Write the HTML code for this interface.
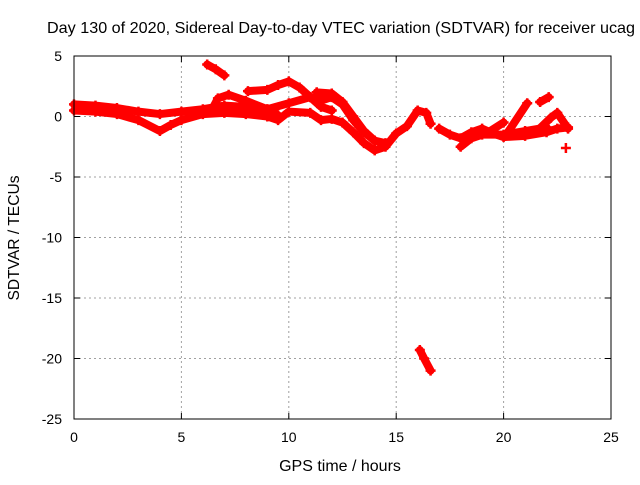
<!DOCTYPE html>
<html><head><meta charset="utf-8"><style>
body{margin:0;background:#fff;}
svg text{font-family:"Liberation Sans",sans-serif;font-size:14px;fill:#000;}
svg text.big{font-size:16px;}
</style></head><body>
<svg id="chart" width="640" height="480" xmlns="http://www.w3.org/2000/svg">
<text class="big" x="47" y="33" textLength="588" lengthAdjust="spacingAndGlyphs">Day 130 of 2020, Sidereal Day-to-day VTEC variation (SDTVAR) for receiver ucag</text>
<text class="big" x="340" y="471" text-anchor="middle">GPS time / hours</text>
<text class="big" transform="translate(19,238) rotate(-90)" text-anchor="middle" textLength="125" lengthAdjust="spacingAndGlyphs">SDTVAR / TECUs</text>
<g id="grid"></g>
<g id="ticks"></g>
<g id="series"></g>
<rect x="74" y="56" width="537" height="363" fill="none" stroke="#000" stroke-width="1"/>
</svg>
<script>
const xTicks=[0,5,10,15,20,25];
const yTicks=[5,0,-5,-10,-15,-20,-25];
const s1=[[0,1.0],[1,0.9],[2,0.7],[3,0.4],[4,0.2],[5,0.4],[6,0.6],[7,0.9],[8,0.8],[9,0.6],[10,1.1],[11,1.6],[11.5,1.3],[12,1.6],[12.5,1.0],[13,-0.3],[13.5,-1.3],[14,-2.0],[14.5,-2.2]];
const s2=[[0,0.5],[1,0.4],[2,0.2],[3,-0.3],[4,-1.2],[4.5,-0.7],[5,-0.3],[6,0.2],[7,0.3],[8,0.2],[9,0.0],[9.5,-0.3],[10,0.4],[11,0.3],[11.5,-0.3],[12,-0.2],[12.5,-0.5],[13,-1.3],[13.5,-2.2],[14,-2.8],[14.5,-2.5],[15,-1.4],[15.5,-0.8],[16,0.5],[16.4,0.3],[16.6,-0.6]];
const s3=[[6.4,0.5],[6.7,1.5],[7.2,1.8],[8,1.3],[9,0.6],[9.5,0.1]];
const s4=[[8.1,2.1],[9,2.2],[9.5,2.6],[10,2.9],[10.5,2.4],[11,1.6],[11.5,0.8],[12,0.5]];
const s5=[[11.3,2.0],[12,1.9],[12.5,1.2],[13,0],[13.5,-1.2],[14,-2.0]];
const s6=[[6.2,4.3],[6.6,3.9],[7,3.4]];
const s7=[[16.1,-19.3],[16.3,-20],[16.6,-21]];
const s8=[[17,-1.0],[17.5,-1.5],[18,-1.8],[18.5,-1.3],[19,-1.0],[19.5,-1.4],[20,-1.7],[21,-1.6],[22,-1.3],[22.5,-1.0],[23,-0.9]];
const s9=[[18,-2.5],[18.5,-1.8],[19,-1.5],[20,-1.5],[21,-1.2],[22,-0.9]];
const s10=[[19.2,-1.4],[20,-0.5]];
const s11=[[20.2,-1.3],[21.1,1.1]];
const s12=[[21.5,-1.3],[22.2,-0.1],[22.5,0.3],[23,-1.0]];
const s13=[[21.7,1.2],[22.1,1.6]];
const s14=[[22.9,-2.6]];
const allSeries=[s1,s2,s3,s4,s5,s6,s7,s8,s9,s10,s11,s12,s13,s14];
const NS='http://www.w3.org/2000/svg';
function xs(v){return 74+v*(537/25);}
function ys(v){return 56+(5-v)*(363/30);}
const grid=document.getElementById('grid'),ticks=document.getElementById('ticks'),ser=document.getElementById('series');
function mk(t,a,p){const e=document.createElementNS(NS,t);for(const k in a)e.setAttribute(k,a[k]);p.appendChild(e);return e;}
xTicks.forEach(v=>{
 const x=xs(v);
 if(v>0&&v<25){const g=mk('line',{x1:x,x2:x,y1:56,y2:419,stroke:'#a0a0a0','stroke-dasharray':'2,3'},grid);
 
 }
 mk('line',{x1:x,x2:x,y1:419,y2:413,stroke:'#000'},ticks);
 mk('line',{x1:x,x2:x,y1:56,y2:62,stroke:'#000'},ticks);
 const t=mk('text',{x:x,y:442,'text-anchor':'middle'},ticks);t.textContent=v;
 
 
});
yTicks.forEach(v=>{
 const y=ys(v);
 if(v<5&&v>-25){const g=mk('line',{x1:74,x2:611,y1:y,y2:y,stroke:'#a0a0a0','stroke-dasharray':'2,3'},grid);
 
 }
 mk('line',{x1:74,x2:80,y1:y,y2:y,stroke:'#000'},ticks);
 mk('line',{x1:605,x2:611,y1:y,y2:y,stroke:'#000'},ticks);
 const t=mk('text',{x:62,y:y+5,'text-anchor':'end'},ticks);t.textContent=v;
 
 
});
allSeries.forEach((s,i)=>{
 const pts=s.map(p=>xs(p[0])+','+ys(p[1])).join(' ');
 const pl=mk('polyline',{points:pts,fill:'none',stroke:'#ff0000','stroke-width':8,'stroke-linejoin':'round','stroke-linecap':'round'},ser);
 
 
 s.forEach(p=>{
  const x=xs(p[0]),y=ys(p[1]);
  const m=mk('path',{d:`M${x-5},${y}h10M${x},${y-5}v10`,stroke:'#ff0000','stroke-width':2.5},ser);
  
  
 });
});
</script>
</body></html>
